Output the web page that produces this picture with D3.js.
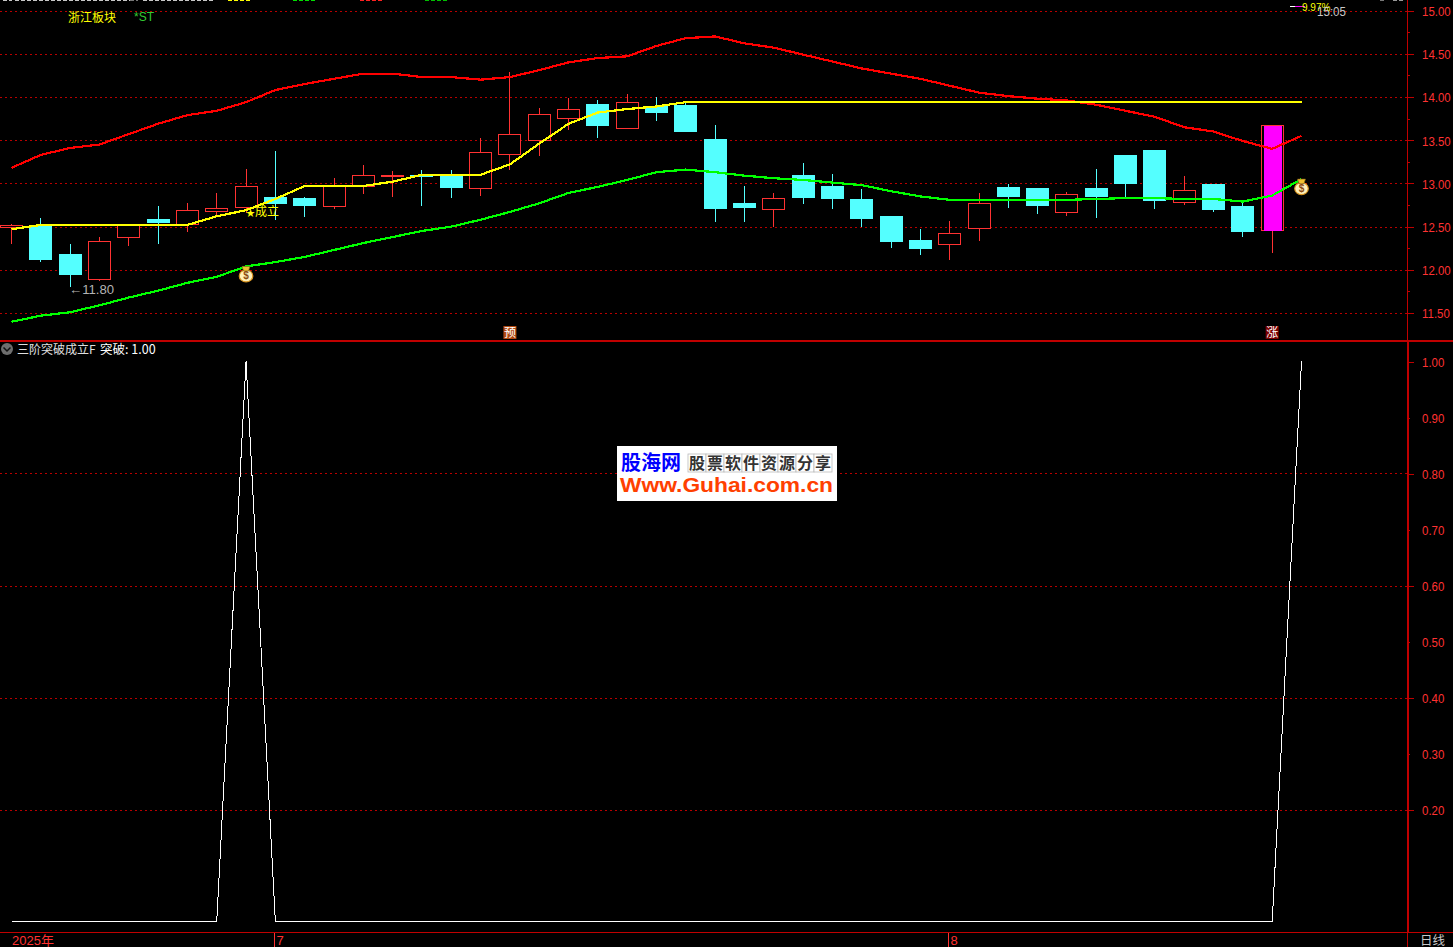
<!doctype html>
<html>

<head>
    <meta charset="utf-8">
    <title>三阶突破成立F</title>
    <style>
    html, body { margin: 0; background: #000; overflow: hidden; }
    svg { display: block; }
    text { font-family: "Liberation Sans", "Noto Sans CJK SC", sans-serif; }
    .cjk { font-family: "Noto Sans CJK SC", sans-serif; }
    </style>
    <script src="https://cdn.jsdelivr.net/npm/d3@7"></script>
</head>

<body>
    <svg width="1453" height="947"></svg>
    <script>
    // candles (slot 44 has lines only)
    var opens = [12.49,12.51,12.18,11.89,12.37,12.59,12.53,12.68,12.72,12.84,12.83,12.73,12.96,13.09,13.10,13.09,12.94,13.33,13.50,13.75,13.92,13.64,13.89,13.91,13.51,12.77,12.70,13.10,12.97,12.82,12.62,12.35,12.29,12.48,12.96,12.95,12.66,12.95,13.33,13.39,12.78,12.99,12.74,12.45];
    var closes = [12.51,12.11,11.94,12.33,12.51,12.54,12.69,12.71,12.97,12.76,12.74,12.97,13.09,13.09,13.07,12.95,13.36,13.57,13.80,13.86,13.66,13.94,13.81,13.60,12.70,12.72,12.82,12.83,12.82,12.59,12.32,12.24,12.42,12.77,12.84,12.74,12.87,12.84,12.99,12.80,12.92,12.69,12.44,13.67];
    var highs = [12.53,12.60,12.30,12.38,12.51,12.74,12.77,12.89,13.17,13.38,12.84,13.06,13.21,13.14,13.15,13.15,13.53,14.29,13.87,13.99,13.96,14.03,14.00,13.94,13.68,12.97,12.89,13.24,13.11,12.94,12.62,12.47,12.57,12.89,12.99,12.95,12.90,13.17,13.33,13.39,13.09,12.99,12.79,13.67];
    var lows = [12.30,12.09,11.80,11.87,12.28,12.30,12.44,12.62,12.66,12.58,12.61,12.70,12.88,12.84,12.74,12.83,12.86,13.15,13.32,13.62,13.53,13.64,13.72,13.60,12.55,12.55,12.50,12.76,12.70,12.50,12.25,12.17,12.11,12.33,12.72,12.65,12.62,12.60,12.82,12.70,12.75,12.67,12.38,12.20];

    var upperBand = [13.18,13.33,13.41,13.45,13.57,13.69,13.79,13.84,13.94,14.08,14.15,14.21,14.27,14.27,14.23,14.23,14.20,14.23,14.31,14.40,14.45,14.47,14.59,14.68,14.70,14.62,14.57,14.49,14.41,14.33,14.27,14.21,14.13,14.05,14.01,13.98,13.96,13.91,13.84,13.77,13.65,13.60,13.49,13.40,13.55];
    var yellowLine = [12.47,12.52,12.52,12.52,12.52,12.52,12.52,12.62,12.69,12.82,12.97,12.97,12.97,13.02,13.10,13.10,13.10,13.22,13.46,13.69,13.82,13.86,13.89,13.94,13.94,13.94,13.94,13.94,13.94,13.94,13.94,13.94,13.94,13.94,13.94,13.94,13.94,13.94,13.94,13.94,13.94,13.94,13.94,13.94,13.94];
    var lowerBand = [11.40,11.47,11.51,11.59,11.68,11.76,11.85,11.92,12.04,12.09,12.15,12.23,12.31,12.38,12.45,12.50,12.58,12.67,12.77,12.89,12.96,13.04,13.13,13.16,13.13,13.09,13.06,13.04,13.01,12.98,12.91,12.85,12.81,12.81,12.81,12.81,12.81,12.82,12.83,12.83,12.82,12.82,12.79,12.86,13.05];

    // indicator panel: zero everywhere except slots 8 and 44
    var breakout = [0,0,0,0,0,0,0,0,1,0,0,0,0,0,0,0,0,0,0,0,0,0,0,0,0,0,0,0,0,0,0,0,0,0,0,0,0,0,0,0,0,0,0,0,1];

    var priceTicks = [15,14.5,14,13.5,13,12.5,12,11.5];
    var priceMinorTicks = [14.75,14.25,13.75,13.25,12.75,12.25,11.75];
    var indicatorTicks = [1,0.9,0.8,0.7,0.6,0.5,0.4,0.3,0.2];
    var indicatorGrid = [0.8,0.6,0.4,0.2];
    var bagSlots = [8,44];
    var monthSlots = [9,32];
    var monthLabels = ["7","8"];
    var watermarkCells = "股票软件资源分享".split("");

    var svg = d3.select("svg"),
        axisX = 1408,
        panelBottom = 340.5,
        chartBottom = 932.5,
        bodyWidth = 23;

    var RED = "#ff3232", AXIS = "#c00000", CYAN = "#54ffff", GRID = "#b80000";

    var x = d3.scalePoint().domain(d3.range(45)).range([11.5, 1301.5]);
    var yPrice = d3.scaleLinear().domain([11.5, 15]).range([313.1, 10.5]);
    var yInd = d3.scaleLinear().domain([0, 1]).range([921.5, 361.5]);

    var px = function(i) { return Math.floor(x(i)) + 0.5; };

    // grid
    var grid = svg.append("g").attr("stroke", GRID).attr("stroke-dasharray", "2 3").attr("shape-rendering", "crispEdges");
    grid.selectAll(".p").data(priceTicks).enter().append("line")
        .attr("x1", 0).attr("x2", axisX - 1)
        .attr("y1", function(d) { return Math.round(yPrice(d)) + 0.5; })
        .attr("y2", function(d) { return Math.round(yPrice(d)) + 0.5; });
    grid.selectAll(".i").data(indicatorGrid).enter().append("line")
        .attr("x1", 0).attr("x2", axisX - 1)
        .attr("y1", function(d) { return Math.round(yInd(d)) + 0.5; })
        .attr("y2", function(d) { return Math.round(yInd(d)) + 0.5; });

    // candles
    var candles = svg.append("g").attr("shape-rendering", "crispEdges");
    var bars = candles.selectAll("g").data(opens).enter().append("g");
    var isUp = function(i) { return closes[i] >= opens[i]; };

    bars.append("line")
        .attr("x1", function(d, i) { return px(i); })
        .attr("x2", function(d, i) { return px(i); })
        .attr("y1", function(d, i) { return yPrice(highs[i]); })
        .attr("y2", function(d, i) { return yPrice(lows[i]); })
        .attr("stroke", function(d, i) { return isUp(i) ? RED : CYAN; });

    bars.append("rect")
        .attr("x", function(d, i) { return px(i) - bodyWidth / 2 + (isUp(i) ? 0.5 : 0); })
        .attr("width", function(d, i) { return isUp(i) ? bodyWidth - 1 : bodyWidth; })
        .attr("y", function(d, i) { return yPrice(Math.max(opens[i], closes[i])); })
        .attr("height", function(d, i) { return Math.max(1, Math.abs(yPrice(opens[i]) - yPrice(closes[i]))); })
        .attr("fill", function(d, i) { return isUp(i) ? "#000" : CYAN; })
        .attr("stroke", function(d, i) { return isUp(i) ? RED : "none"; });

    // the limit-up day is filled magenta inside its red outline
    candles.append("rect")
        .attr("x", px(43) - bodyWidth / 2 + 3)
        .attr("width", bodyWidth - 5)
        .attr("y", yPrice(closes[43]) + 1)
        .attr("height", yPrice(opens[43]) - yPrice(closes[43]) - 1)
        .attr("fill", "#ff00ff");

    // lines
    var priceLine = d3.line().x(function(d, i) { return x(i); }).y(function(d) { return yPrice(d); });
    var lineGroup = svg.append("g").attr("fill", "none").attr("stroke-width", 2.2).attr("shape-rendering", "crispEdges");
    lineGroup.append("path").attr("d", priceLine(upperBand)).attr("stroke", "#ff0000");
    lineGroup.append("path").attr("d", priceLine(lowerBand)).attr("stroke", "#00ff00");
    lineGroup.append("path").attr("d", priceLine(yellowLine)).attr("stroke", "#ffff00");

    svg.append("path")
        .attr("d", d3.line().x(function(d, i) { return x(i); }).y(function(d) { return yInd(d); })(breakout))
        .attr("fill", "none").attr("stroke", "#fff").attr("stroke-width", 1).attr("shape-rendering", "crispEdges");

    // money bags
    var bags = svg.append("g").selectAll("g").data(bagSlots).enter().append("g")
        .attr("transform", function(d) { return "translate(" + x(d) + "," + (yPrice(lowerBand[d]) + 8) + ")"; });
    bags.append("ellipse").attr("cy", 1.5).attr("rx", 6.8).attr("ry", 6).attr("fill", "#fff0b8").attr("stroke", "#d89420").attr("stroke-width", 1.2);
    bags.append("path").attr("d", "M-4,-8 L4,-8 L2.5,-3.5 L-2.5,-3.5 Z").attr("fill", "#f0c030").attr("stroke", "#7a5a10").attr("stroke-width", 0.6);
    bags.append("text").attr("y", 5).attr("text-anchor", "middle").attr("font-size", 10).attr("font-weight", "bold").attr("fill", "#8a4a10").text("$");

    // frame
    var frame = svg.append("g").attr("stroke", AXIS).attr("shape-rendering", "crispEdges");
    frame.append("line").attr("x1", 0).attr("x2", 1453).attr("y1", panelBottom).attr("y2", panelBottom).attr("stroke-width", 2);
    frame.append("line").attr("x1", 0).attr("x2", 1453).attr("y1", chartBottom).attr("y2", chartBottom).attr("stroke-width", 1);
    frame.append("line").attr("x1", axisX - 0.5).attr("x2", axisX - 0.5).attr("y1", 0).attr("y2", panelBottom);
    frame.append("line").attr("x1", axisX).attr("x2", axisX).attr("y1", panelBottom).attr("y2", chartBottom).attr("stroke-width", 2);
    frame.append("line").attr("x1", axisX - 0.5).attr("x2", axisX - 0.5).attr("y1", chartBottom).attr("y2", 947);

    // y axes, labels squeezed sideways to the narrow look of the original
    function styleAxis(g) {
        g.select(".domain").remove();
        g.selectAll("line").attr("stroke", AXIS).attr("shape-rendering", "crispEdges");
        g.selectAll("text")
            .attr("fill", RED).attr("font-size", 13.5).attr("x", 0).attr("dy", "0.36em")
            .attr("text-anchor", "start").attr("transform", "translate(14,0) scale(0.85,1)");
    }

    svg.append("g").attr("transform", "translate(" + axisX + ",0)")
        .call(d3.axisRight(yPrice).tickValues(priceTicks).tickFormat(d3.format(".2f")).tickSize(6))
        .call(styleAxis);
    svg.append("g").attr("transform", "translate(" + axisX + ",0)")
        .call(d3.axisRight(yPrice).tickValues(priceMinorTicks).tickFormat("").tickSize(2))
        .call(styleAxis);
    svg.append("g").attr("transform", "translate(" + axisX + ",0)")
        .call(d3.axisRight(yInd).tickValues(indicatorTicks).tickFormat(d3.format(".2f"))
            .tickSize(6))
        .call(styleAxis)
        .selectAll(".tick line").attr("x2", function(d) { return Math.round(d * 10) % 2 ? 2 : 6; });

    // x axis labels
    var months = svg.append("g").selectAll("g").data(monthSlots).enter().append("g")
        .attr("transform", function(d) { return "translate(" + (Math.floor(x(d)) - 0.5) + ",0)"; });
    months.append("line").attr("y1", chartBottom).attr("y2", 947).attr("stroke", RED).attr("shape-rendering", "crispEdges");
    months.append("text").attr("x", 2).attr("y", 945).attr("fill", RED).attr("font-size", 13)
        .text(function(d, i) { return monthLabels[i]; });
    svg.append("text").attr("x", 12).attr("y", 945).attr("fill", RED).attr("font-size", 13).text("2025年");
    svg.append("text").attr("x", 1420).attr("y", 945).attr("fill", "#c8c8c8").attr("font-size", 12.5).text("日线");

    // header and annotations
    svg.append("text").attr("class", "cjk").attr("x", 68).attr("y", 22).attr("fill", "#ffff00").attr("font-size", 12).text("浙江板块");
    svg.append("text").attr("x", 134).attr("y", 21).attr("fill", "#33cc33").attr("font-size", 12).text("*ST");
    svg.append("text").attr("x", x(2) - 1).attr("y", yPrice(lows[2]) + 7).attr("fill", "#b4b4b4").attr("font-size", 13)
        .attr("textLength", 45).attr("lengthAdjust", "spacingAndGlyphs").text("←11.80");
    var doneLabel = svg.append("text").attr("class", "cjk").attr("x", x(8)).attr("y", 216).attr("fill", "#ffff00");
    doneLabel.append("tspan").attr("font-size", 9).text("★");
    doneLabel.append("tspan").attr("font-size", 12).text("成立");

    // top edge, text is cut off by the window here
    var topBits = [[3, 9, "#c8c8c8"], [15, 115, "#c8c8c8"], [130, 8, "#777"], [143, 72, "#c8c8c8"], [228, 22, "#ffff00"], [293, 23, "#00e000"], [360, 22, "#ff2020"], [425, 22, "#00c000"], [1380, 4, "#777"], [1393, 10, "#999"]];
    svg.append("g").attr("stroke-dasharray", "4 2").attr("shape-rendering", "crispEdges")
        .selectAll("line").data(topBits).enter().append("line")
        .attr("x1", function(d) { return d[0]; }).attr("x2", function(d) { return d[0] + d[1]; })
        .attr("y1", 0.5).attr("y2", 0.5).attr("stroke", function(d) { return d[2]; });

    svg.append("line").attr("x1", 1290).attr("x2", 1305).attr("y1", 6.5).attr("y2", 6.5).attr("stroke", "#ff00ff").attr("shape-rendering", "crispEdges");
    svg.append("line").attr("x1", 1290).attr("x2", 1295).attr("y1", 6.5).attr("y2", 6.5).attr("stroke", "#fff").attr("shape-rendering", "crispEdges");
    svg.append("text").attr("x", 1302).attr("y", 11).attr("fill", "#ffff00").attr("font-size", 10).text("9.97%");
    svg.append("text").attr("x", 1317).attr("y", 16).attr("fill", "#c8c8c8").attr("font-size", 13)
        .attr("textLength", 29).attr("lengthAdjust", "spacingAndGlyphs").text("15:05");

    // pane title
    svg.append("circle").attr("cx", 7).attr("cy", 349).attr("r", 6).attr("fill", "#6e6e6e");
    svg.append("path").attr("d", "M3.5,347.5 L7,351 L10.5,347.5").attr("fill", "none").attr("stroke", "#111").attr("stroke-width", 1.5);
    svg.append("text").attr("class", "cjk").attr("x", 17).attr("y", 354).attr("fill", "#e0e0e0").attr("font-size", 12).text("三阶突破成立F");
    svg.append("text").attr("class", "cjk").attr("x", 100).attr("y", 354).attr("fill", "#fff").attr("font-size", 12.5).text("突破: 1.00");

    // signal badges on the bottom of the price pane
    var badges = [[17, "预", "#b04810"], [43, "涨", "#7a0000"]];
    var badge = svg.append("g").selectAll("g").data(badges).enter().append("g")
        .attr("transform", function(d) { return "translate(" + (x(d[0]) - 6.5) + ",326)"; });
    badge.append("rect").attr("width", 13).attr("height", 13).attr("fill", function(d) { return d[2]; });
    badge.append("text").attr("class", "cjk").attr("x", 6.5).attr("y", 11).attr("text-anchor", "middle")
        .attr("font-size", 12).attr("fill", "#fff").text(function(d) { return d[1]; });

    // watermark
    var wm = svg.append("g").attr("transform", "translate(617,446)");
    wm.append("rect").attr("width", 220).attr("height", 55).attr("fill", "#fff");
    wm.append("text").attr("class", "cjk").attr("x", 4).attr("y", 24).attr("font-size", 20).attr("font-weight", "bold").attr("fill", "#0000ff").text("股海网");
    var cells = wm.selectAll(".cell").data(watermarkCells).enter().append("g")
        .attr("transform", function(d, i) { return "translate(" + (71 + i * 18) + ",8)"; });
    cells.append("rect").attr("width", 18).attr("height", 18).attr("fill", "#fff").attr("stroke", "#bbb").attr("stroke-width", 0.8);
    cells.append("text").attr("class", "cjk").attr("x", 9).attr("y", 15).attr("text-anchor", "middle").attr("font-size", 16).attr("font-weight", "bold").attr("fill", "#333").text(function(d) { return d; });
    wm.append("text").attr("x", 3).attr("y", 46).attr("font-size", 20).attr("font-weight", "bold").attr("fill", "#ff4000")
        .attr("textLength", 213).attr("lengthAdjust", "spacingAndGlyphs").text("Www.Guhai.com.cn");
    </script>
</body>

</html>
